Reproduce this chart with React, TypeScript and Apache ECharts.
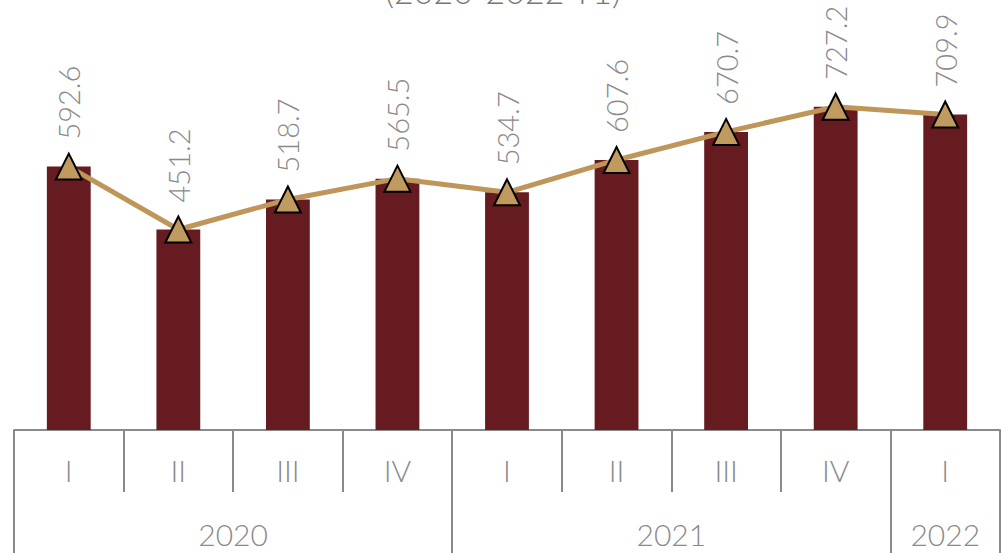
import React, { useEffect, useRef } from "react";
import * as echarts from "echarts";

const quarters = ["I", "II", "III", "IV", "I", "II", "III", "IV", "I"];
const values = [592.6, 451.2, 518.7, 565.5, 534.7, 607.6, 670.7, 727.2, 709.9];
const yearLabels = ["2020", "2021", "2022"];
const yearCenters = [2, 6, 8.5];
const yearBoundaries = [0, 4, 8, 9];
const titleText = "(2020-2022 T1)";

const FONT = "Lato";
const GRAY = "#8a8a8a";

export default function App() {
  const ref = useRef<HTMLDivElement>(null);
  useEffect(() => {
    if (!ref.current) return;
    const chart = echarts.init(ref.current, null, { renderer: "svg" });
    chart.setOption({
      animation: false,
      backgroundColor: "#ffffff",
      graphic: [
        {
          type: "text",
          left: "center",
          top: -27,
          style: {
            text: titleText,
            fontSize: 34,
            fontFamily: FONT,
            fontWeight: 300,
            fill: "#777",
          },
        },
      ],
      grid: { left: 14, right: 7, top: 30, bottom: 123 },
      xAxis: [
        {
          type: "category",
          data: quarters,
          position: "bottom",
          axisLine: { show: true, lineStyle: { color: GRAY, width: 2 } },
          axisTick: { show: true, length: 62, interval: 0, lineStyle: { color: GRAY, width: 2 } },
          axisLabel: {
            interval: 0,
            margin: 25,
            fontSize: 30,
            fontFamily: FONT,
            fontWeight: 300,
            color: GRAY,
          },
        },
        {
          type: "value",
          min: 0,
          max: 9,
          position: "bottom",
          axisLine: { show: false },
          splitLine: { show: false },
          axisTick: {
            show: true,
            length: 123,
            customValues: yearBoundaries,
            lineStyle: { color: GRAY, width: 2 },
          },
          axisLabel: {
            show: true,
            customValues: yearCenters,
            margin: 89,
            fontSize: 30,
            fontFamily: FONT,
            fontWeight: 300,
            color: GRAY,
            formatter: (v: number) => {
              const i = yearCenters.indexOf(v);
              return i >= 0 ? yearLabels[i] : "";
            },
          },
        },
      ],
      yAxis: {
        type: "value",
        min: 0,
        max: 900,
        show: false,
        splitLine: { show: false },
      },
      series: [
        {
          type: "bar",
          data: values,
          barWidth: "40%",
          itemStyle: { color: "#661B20" },
          xAxisIndex: 0,
        },
        {
          type: "line",
          data: values,
          xAxisIndex: 0,
          lineStyle: { color: "#BF9659", width: 5 },
          symbol: "triangle",
          symbolSize: [26, 26],
          itemStyle: { color: "#C09A5E", borderColor: "#000", borderWidth: 2 },
          z: 5,
          label: {
            show: true,
            position: "top",
            distance: 13,
            rotate: 90,
            align: "left",
            verticalAlign: "middle",
            fontSize: 29,
            fontFamily: FONT,
            fontWeight: 300,
            color: GRAY,
            formatter: (p: any) => p.value.toFixed(1),
          },
        },
      ],
    });
    return () => chart.dispose();
  }, []);
  return (
    <div
      ref={ref}
      style={{ position: "fixed", left: 0, top: 0, width: 1007, height: 553 }}
    />
  );
}
